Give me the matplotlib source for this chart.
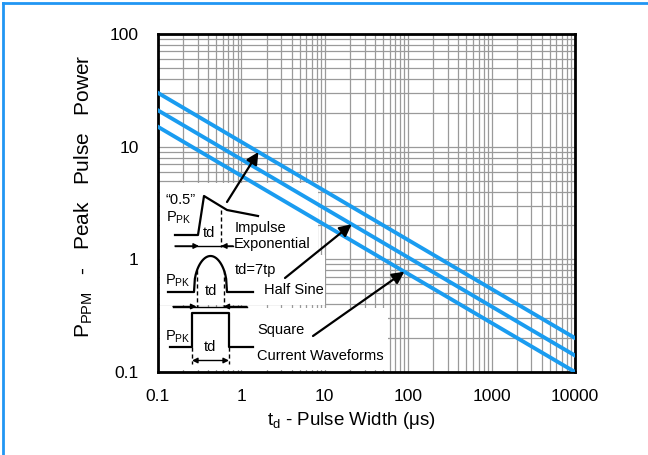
import numpy as np
import matplotlib
import matplotlib.pyplot as plt
from matplotlib.transforms import Affine2D
from matplotlib.patches import Rectangle
from matplotlib.lines import Line2D

plt.rcParams["font.family"] = ["Liberation Sans", "DejaVu Sans"]
plt.rcParams["mathtext.default"] = "regular"

# pulse width (us) at the ends of each rating line
pulse_width = [0.1, 10000]
# peak pulse power for each waveform
power_exponential = [30.0, 0.20]
power_half_sine = [21.0, 0.14]
power_square = [15.0, 0.10]

x_ticks = [0.1, 1, 10, 100, 1000, 10000]
x_tick_labels = ["0.1", "1", "10", "100", "1000", "10000"]
y_ticks = [0.1, 1, 10, 100]
y_tick_labels = ["0.1", "1", "10", "100"]

# where each pointer arrow touches its line (pulse width, us)
arrow_targets = {"exp": 1.6, "sine": 21, "square": 90}

W, H = 648, 455
BLUE = "#1a9cf0"

fig = plt.figure(figsize=(W / 100, H / 100), dpi=100)
ax = fig.add_axes([158 / W, 1 - 372 / H, 417 / W, 338 / H])

# pixel coordinates, origin top-left, for the waveform sketch
px = Affine2D().scale(1 / W, -1 / H).translate(0, 1) + fig.transFigure

ax.set_xscale("log")
ax.set_yscale("log")
ax.set_xlim(0.1, 10000)
ax.set_ylim(0.1, 100)
ax.grid(True, which="both", color="#9a9a9a", linewidth=0.9)
ax.set_axisbelow(True)
ax.set_xticks(x_ticks)
ax.set_xticklabels(x_tick_labels)
ax.set_yticks(y_ticks)
ax.set_yticklabels(y_tick_labels)
ax.tick_params(which="both", length=0)
ax.tick_params(axis="x", labelsize=12.5, pad=12)
ax.tick_params(axis="y", labelsize=12.5, pad=14)
for s in ax.spines.values():
    s.set_linewidth(2)

for p in (power_exponential, power_half_sine, power_square):
    ax.plot(pulse_width, p, color=BLUE, linewidth=2.8, zorder=3)

ax.set_xlabel("t$_d$ - Pulse Width (μs)", fontsize=13.5)
ax.xaxis.set_label_coords(0.463, -0.112)
ax.set_ylabel("P$_{PPM}$   -   Peak   Pulse   Power", fontsize=15)
ax.yaxis.set_label_coords(-0.15, 0.52)

# white panels behind the waveform sketch
for x0, y0, x1, y1 in [(160, 183, 318, 255), (160, 255, 325, 305), (160, 308, 388, 370)]:
    ax.add_patch(Rectangle((x0, y0), x1 - x0, y1 - y0, transform=px,
                           facecolor="white", edgecolor="none", zorder=2))

def line(xs, ys, **kw):
    kw.setdefault("color", "black")
    kw.setdefault("linewidth", 1.6)
    ax.add_line(Line2D(xs, ys, transform=px, zorder=4, clip_on=False, **kw))

def dim(x0, x1, y, style):
    ax.annotate("", xy=(x1, y), xytext=(x0, y), xycoords=px, textcoords=px,
                arrowprops=dict(arrowstyle=style, color="black", lw=1.0,
                                mutation_scale=8, shrinkA=0, shrinkB=0), zorder=4)

def txt(x, y, s, ha="left", size=10.5):
    ax.text(x, y, s, transform=px, ha=ha, va="center", fontsize=size, zorder=5)

# impulse exponential
line([175, 198, 204, 227, 258], [235, 235, 196, 210, 216])
line([221, 221], [210, 247], linestyle=(0, (3, 2)), linewidth=1.0)
line([175, 233], [246, 246], linewidth=1.0)
dim(175, 199, 246, "-|>")
dim(233, 221, 246, "-|>")
txt(166, 200, "“0.5”")
txt(166, 218, "P$_{PK}$")
txt(203, 233, "td")
txt(235, 228, "Impulse")
txt(234, 244, "Exponential")

# half sine
t = np.linspace(0, np.pi, 40)
sx = 194 + 33 * t / np.pi
sy = 292 - 36 * np.sin(t) ** 0.4
line(np.r_[168, sx, 253], np.r_[292, sy, 292])
line([196.5, 196.5], [270, 307], linestyle=(0, (3, 2)), linewidth=1.0)
line([223.5, 223.5], [270, 307], linestyle=(0, (3, 2)), linewidth=1.0)
line([173, 247], [306.5, 306.5], linewidth=1.0)
dim(173, 196.5, 306.5, "-|>")
dim(247, 223.5, 306.5, "-|>")
txt(165, 281, "P$_{PK}$")
txt(205, 291, "td")
txt(235, 270, "td=7tp")
txt(264, 290, "Half Sine")

# square
line([170, 192, 192, 229, 229, 253], [346.5, 346.5, 313, 313, 346.5, 346.5])
line([192, 192], [346.5, 364], linestyle=(0, (3, 2)), linewidth=1.0)
line([229, 229], [346.5, 364], linestyle=(0, (3, 2)), linewidth=1.0)
dim(192, 229, 360.5, "<|-|>")
txt(165, 337, "P$_{PK}$")
txt(204, 347, "td")
txt(257, 330, "Square")
txt(257, 356, "Current Waveforms")

# pointer arrows from labels to the rating lines
def on_line(x, p):
    return 10 ** np.interp(np.log10(x), np.log10(pulse_width), np.log10(p))

for key, p, tail in [("exp", power_exponential, (227, 202)),
                     ("sine", power_half_sine, (285, 278)),
                     ("square", power_square, (313, 336))]:
    xt = arrow_targets[key]
    ax.annotate("", xy=(xt, on_line(xt, p)), xycoords="data",
                xytext=tail, textcoords=px,
                arrowprops=dict(arrowstyle="-|>", color="black", lw=1.6,
                                mutation_scale=18, shrinkA=0, shrinkB=0),
                zorder=6)

# blue frame on the top and left edges
fig.add_artist(Line2D([3, 3], [H, 3], transform=px, color="#2196f3", linewidth=2))
fig.add_artist(Line2D([3, W], [3, 3], transform=px, color="#2196f3", linewidth=2))

fig.savefig("out.png", dpi=100)
